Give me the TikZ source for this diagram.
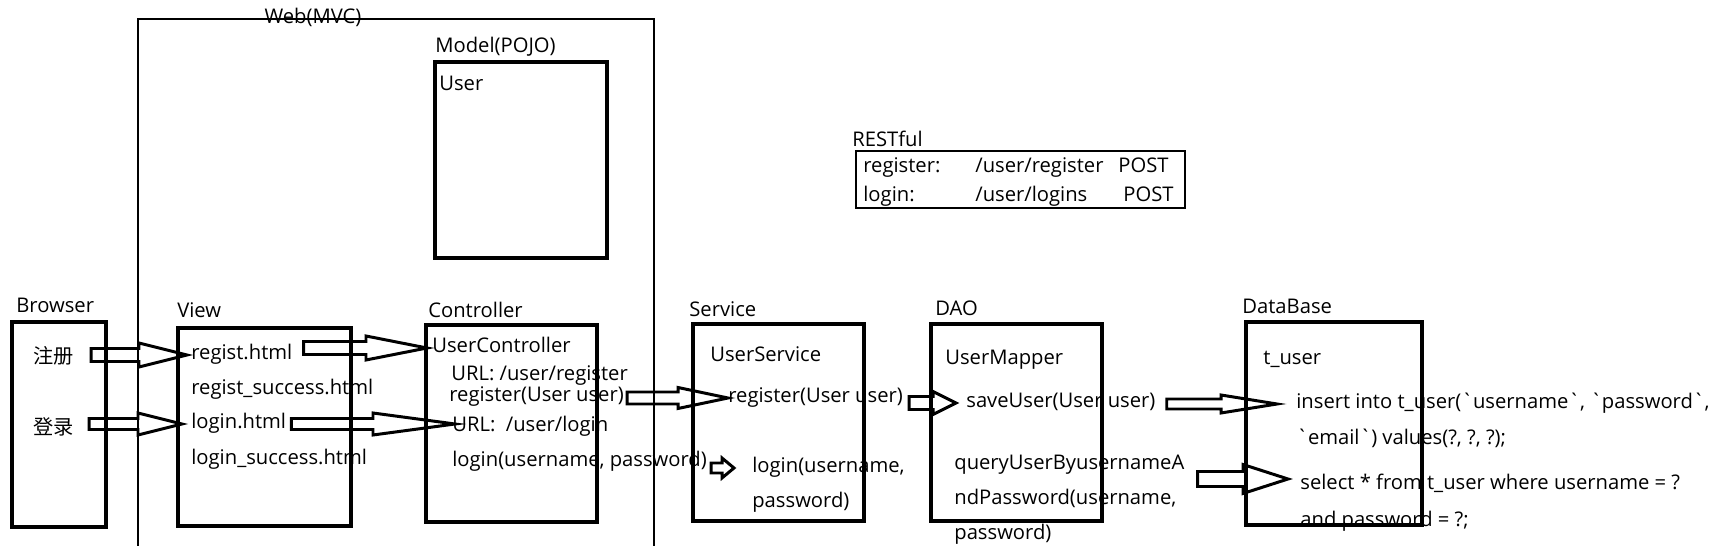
\documentclass[tikz,border=0pt]{standalone}
\usepackage{fontspec}
\setmainfont{Open Sans}
\newfontfamily\cjk{Noto Sans CJK SC}
\usetikzlibrary{calc}

\tikzset{
  layer/.style={line width=2.3pt},
  thinbox/.style={line width=0.7pt},
  arrowline/.style={line width=1.7pt, line join=miter},
  txt/.style={anchor=west, inner sep=0pt, text height=8pt, text depth=2.5pt, font=\fontsize{11.5}{13}\selectfont},
}

% from, shift, to, shift, head length, half shaft, half head
\newcommand{\hollowarrow}[7]{%
  \path (#1) ++(#2) coordinate (ha-tl) (#3) ++(#4) coordinate (ha-tip);
  \draw[arrowline] ($(ha-tl |- ha-tip)+(0,-#6)$) -- ($(ha-tip)+(-#5,-#6)$)
    -- ($(ha-tip)+(-#5,-#7)$) -- (ha-tip) -- ($(ha-tip)+(-#5,#7)$)
    -- ($(ha-tip)+(-#5,#6)$) -- ($(ha-tl |- ha-tip)+(0,#6)$) -- cycle;}

\begin{document}
\begin{tikzpicture}[x=0.02cm, y=-0.02cm]
	\useasboundingbox (0,0) rectangle (1727,546);

	% web layer
	\draw[thinbox] (138,546) -- (138,19) -- (654,19) -- (654,546);
	\node[txt, anchor=center] (web) at (313,19) {Web(MVC)};

	\draw[layer] (435,62) rectangle (607,258);
	\node[txt] (model) at (435,48) {Model(POJO)};
	\node[txt] (user) at (439,86) {User};

	% restful table
	\node[txt] (rest) at (852,142) {RESTful};
	\draw[thinbox] (856,151) rectangle (1185,208);
	\node[txt] (rreg) at (863,168) {register:};
	\node[txt] (rregurl) at (975,168) {/user/register};
	\node[txt] (rregpost) at (1118,168) {POST};
	\node[txt] (rlog) at (863,197) {login:};
	\node[txt] (rlogurl) at (975,197) {/user/logins};
	\node[txt] (rlogpost) at (1123,197) {POST};

	% browser
	\draw[layer] (12,322) rectangle (106,527);
	\node[txt] (browser) at (16,308) {Browser};
	\node[txt] (zhuce) at (33,359) {\cjk 注册};
	\node[txt] (denglu) at (33,430) {\cjk 登录};

	% view
	\draw[layer] (178,328) rectangle (351,526);
	\node[txt] (view) at (177,313) {View};
	\node[txt] (regist) at (191,355) {regist.html};
	\node[txt] (registok) at (191,390) {regist\_success.html};
	\node[txt] (loginhtml) at (191,424) {login.html};
	\node[txt] (loginok) at (191,460) {login\_success.html};

	% controller
	\draw[layer] (426,325) rectangle (597,522);
	\node[txt] (ctrl) at (428,313) {Controller};
	\node[txt] (uctrl) at (432,348) {UserController};
	\node[txt] (urlreg) at (451,376) {URL: /user/register};
	\node[txt] (ctrlreg) at (449,397) {register(User user)};
	\node[txt] (urllogin) at (452,427) {URL:\ \ /user/login};
	\node[txt] (ctrllogin) at (452,462) {login(username, password)};

	% service
	\draw[layer] (693,324) rectangle (864,521);
	\node[txt] (svc) at (689,312) {Service};
	\node[txt] (usvc) at (710,357) {UserService};
	\node[txt] (svcreg) at (728,398) {register(User user)};
	\node[txt] (svclogin) at (752,468) {login(username,};
	\node[txt] (svcpass) at (752,503) {password)};

	% dao
	\draw[layer] (931,324) rectangle (1102,521);
	\node[txt] (dao) at (935,311) {DAO};
	\node[txt] (mapper) at (945,360) {UserMapper};
	\node[txt] (saveuser) at (966,403) {saveUser(User user)};
	\node[txt] (querya) at (954,465) {queryUserByusernameA};
	\node[txt] (queryb) at (954,500) {ndPassword(username,};
	\node[txt] (queryc) at (954,535) {password)};

	% database
	\draw[layer] (1246,322) rectangle (1422,525);
	\node[txt] (db) at (1242,309) {DataBase};
	\node[txt] (tuser) at (1263,360) {t\_user};
	\node[txt] (insert) at (1296,404) {insert into t\_user(\textasciigrave username\textasciigrave, \textasciigrave password\textasciigrave,};
	\node[txt] (values) at (1296,440) {\textasciigrave email\textasciigrave) values(?, ?, ?);};
	\node[txt] (select) at (1300,485) {select * from t\_user where username = ?};
	\node[txt] (andpw) at (1300,522) {and password = ?;};

	% hollow arrows
	\hollowarrow{zhuce.east}{17,0}{regist.west}{-4,0}{48}{6.5}{12}
	\hollowarrow{denglu.east}{15,0}{loginhtml.west}{-9,0}{44}{5.5}{11}
	\hollowarrow{regist.east}{11,0}{uctrl.west}{-5,0}{61}{6.5}{12}
	\hollowarrow{loginhtml.east}{5,0}{urllogin.west}{3,-3}{82}{5.5}{11}
	\hollowarrow{ctrlreg.east}{3,0}{svcreg.west}{0,0}{50}{6}{10.5}
	\hollowarrow{ctrllogin.east}{4,0}{svclogin.west}{-18,0}{12}{5}{10}
	\hollowarrow{svcreg.east}{6,0}{saveuser.west}{-10,0}{23}{6.5}{11.5}
	\hollowarrow{saveuser.east}{11,0}{insert.west}{-19,0}{56}{5}{9}
	\hollowarrow{querya.east}{13,0}{select.west}{-12,-6}{45}{7.5}{14.5}
\end{tikzpicture}
\end{document}
